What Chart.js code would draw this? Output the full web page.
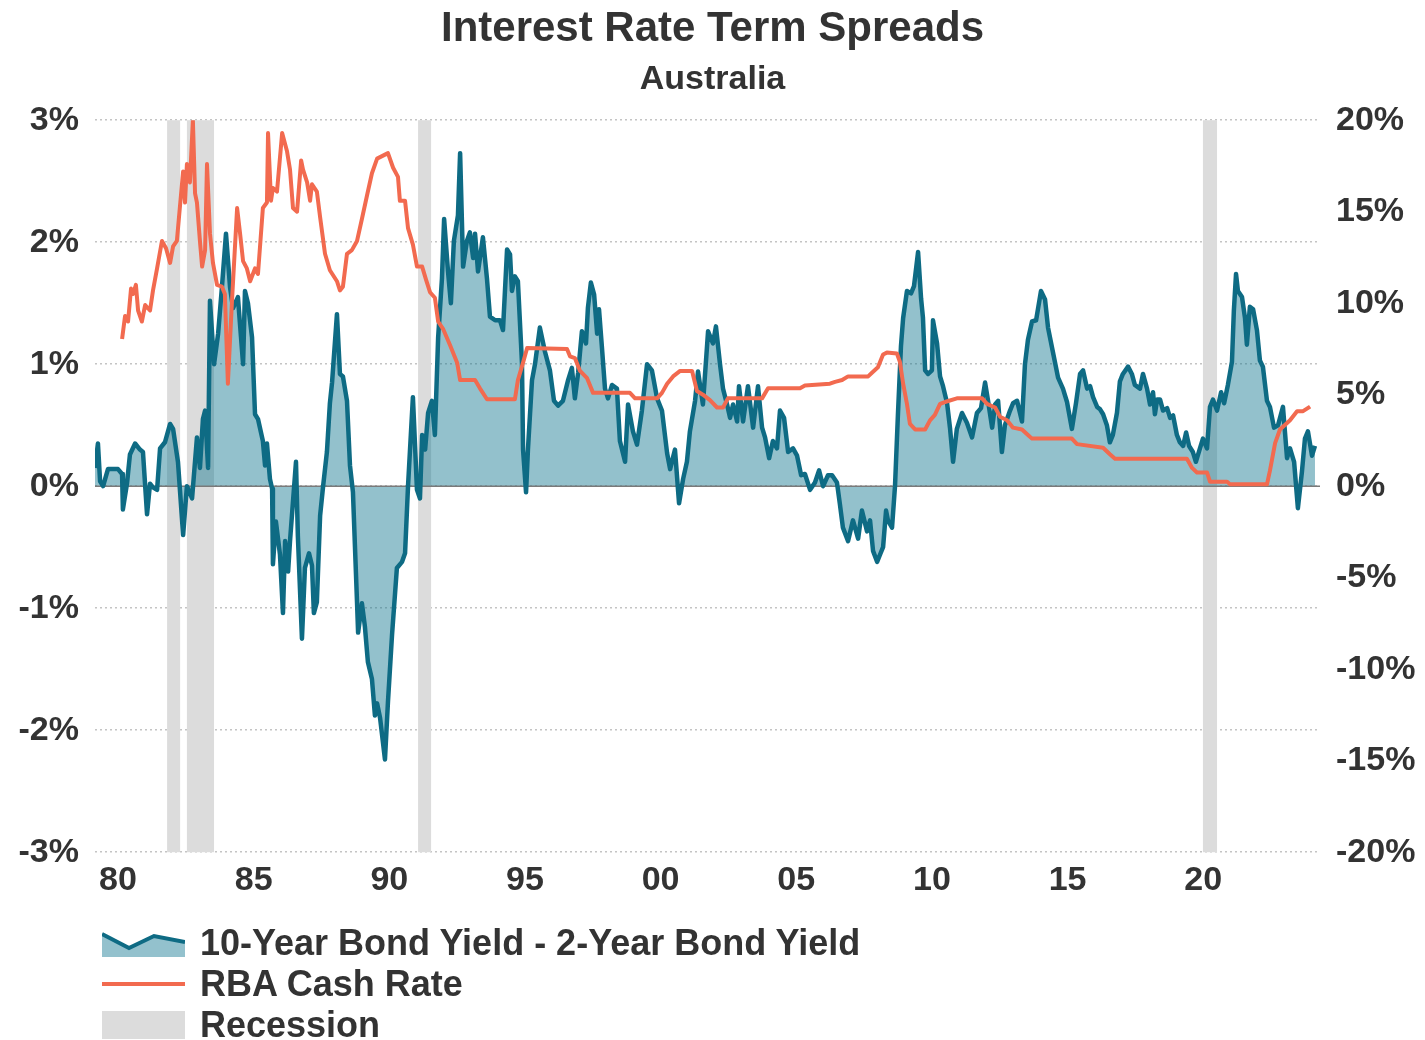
<!DOCTYPE html>
<html>
<head>
<meta charset="utf-8">
<script src="https://cdn.jsdelivr.net/npm/chart.js@4.4.1/dist/chart.umd.min.js"></script>
<style>
  body { margin: 0; background: #fff; }
  #wrap { position: relative; width: 1425px; height: 1040px; }
  #legend { position: absolute; left: 102px; top: 922px; font-family: "Liberation Sans", Arial, sans-serif;
            font-weight: bold; font-size: 36px; color: #333; }
  .row { display: flex; align-items: center; height: 41px; }
  .row svg { margin-right: 15px; }
</style>
</head>
<body>
<div id="wrap">
  <canvas id="termChart" width="1425" height="1040"></canvas>
  <div id="legend">
    <div class="row">
      <svg width="83" height="28"><polygon points="0,5 27,19 52,7 83,13 83,28 0,28" fill="#93c1cd"/><polyline points="0,5 27,19 52,7 83,13" fill="none" stroke="#0e6b84" stroke-width="4"/></svg>
      <span>10-Year Bond Yield - 2-Year Bond Yield</span>
    </div>
    <div class="row">
      <svg width="83" height="28"><line x1="0" y1="14" x2="83" y2="14" stroke="#f26a4f" stroke-width="4"/></svg>
      <span>RBA Cash Rate</span>
    </div>
    <div class="row">
      <svg width="83" height="28"><rect x="0" y="0" width="83" height="28" fill="#dcdcdc"/></svg>
      <span>Recession</span>
    </div>
  </div>
</div>
<script>
// x values are decimal years
var spreadYears = [1979.15, 1979.26, 1979.34, 1979.45, 1979.63, 1980.0, 1980.15, 1980.18, 1980.33, 1980.44, 1980.63, 1980.81, 1980.92,
    1981.07, 1981.18, 1981.29, 1981.44, 1981.55, 1981.73, 1981.92, 1982.03, 1982.21, 1982.40, 1982.54, 1982.73, 1982.91,
    1983.02, 1983.13, 1983.21, 1983.32, 1983.39, 1983.54, 1983.69, 1983.83, 1983.98, 1984.13, 1984.24, 1984.42, 1984.61,
    1984.68, 1984.79, 1984.94, 1985.05, 1985.16, 1985.34, 1985.42, 1985.49, 1985.60, 1985.68, 1985.71, 1985.82, 1985.97,
    1986.08, 1986.16, 1986.27, 1986.34, 1986.56, 1986.63, 1986.78, 1986.89, 1987.04, 1987.15, 1987.22, 1987.33, 1987.45,
    1987.56, 1987.70, 1987.81, 1987.89, 1988.07, 1988.18, 1988.29, 1988.44, 1988.55, 1988.66, 1988.81, 1988.85, 1988.99,
    1989.10, 1989.21, 1989.36, 1989.47, 1989.55, 1989.66, 1989.84, 1989.95, 1990.10, 1990.28, 1990.47, 1990.58, 1990.69,
    1990.87, 1991.02, 1991.13, 1991.21, 1991.32, 1991.43, 1991.57, 1991.68, 1991.80, 1991.94, 1992.02, 1992.16, 1992.27,
    1992.38, 1992.53, 1992.61, 1992.72, 1992.86, 1992.97, 1993.09, 1993.16, 1993.27, 1993.45, 1993.60, 1993.71, 1993.90,
    1994.08, 1994.19, 1994.34, 1994.45, 1994.52, 1994.63, 1994.74, 1994.89, 1994.93, 1995.04, 1995.11, 1995.26, 1995.37,
    1995.55, 1995.74, 1995.92, 1996.07, 1996.22, 1996.40, 1996.59, 1996.73, 1996.84, 1996.96, 1997.10, 1997.25, 1997.32,
    1997.43, 1997.55, 1997.66, 1997.73, 1997.84, 1997.95, 1998.06, 1998.21, 1998.39, 1998.50, 1998.69, 1998.80, 1998.98,
    1999.13, 1999.31, 1999.50, 1999.68, 1999.87, 2000.05, 2000.24, 2000.35, 2000.53, 2000.68, 2000.83, 2000.97, 2001.08,
    2001.27, 2001.38, 2001.56, 2001.75, 2001.93, 2002.04, 2002.19, 2002.30, 2002.45, 2002.56, 2002.67, 2002.82, 2002.89,
    2003.04, 2003.22, 2003.41, 2003.59, 2003.74, 2003.85, 2004.00, 2004.14, 2004.29, 2004.40, 2004.55, 2004.70, 2004.88,
    2005.03, 2005.18, 2005.32, 2005.51, 2005.69, 2005.84, 2005.99, 2006.17, 2006.32, 2006.50, 2006.61, 2006.72, 2006.91,
    2007.09, 2007.28, 2007.42, 2007.61, 2007.72, 2007.83, 2007.98, 2008.09, 2008.20, 2008.31, 2008.38, 2008.53, 2008.64,
    2008.75, 2008.86, 2008.94, 2009.08, 2009.23, 2009.34, 2009.49, 2009.60, 2009.67, 2009.75, 2009.86, 2010.00, 2010.04,
    2010.19, 2010.30, 2010.41, 2010.56, 2010.67, 2010.78, 2010.92, 2011.11, 2011.29, 2011.48, 2011.66, 2011.81, 2011.96,
    2012.07, 2012.22, 2012.33, 2012.44, 2012.58, 2012.69, 2012.88, 2012.99, 2013.14, 2013.32, 2013.43, 2013.54, 2013.69,
    2013.84, 2014.02, 2014.17, 2014.28, 2014.46, 2014.65, 2014.83, 2014.98, 2015.16, 2015.31, 2015.46, 2015.57, 2015.72,
    2015.83, 2015.94, 2016.09, 2016.20, 2016.31, 2016.45, 2016.56, 2016.67, 2016.82, 2016.93, 2017.04, 2017.23, 2017.37,
    2017.48, 2017.67, 2017.78, 2017.93, 2018.04, 2018.15, 2018.22, 2018.30, 2018.41, 2018.52, 2018.67, 2018.78, 2018.89,
    2019.03, 2019.14, 2019.26, 2019.37, 2019.48, 2019.62, 2019.73, 2019.88, 2019.99, 2020.14, 2020.25, 2020.36, 2020.51,
    2020.66, 2020.77, 2020.91, 2021.06, 2021.13, 2021.21, 2021.28, 2021.43, 2021.54, 2021.61, 2021.72, 2021.84, 2021.98,
    2022.09, 2022.20, 2022.35, 2022.46, 2022.61, 2022.76, 2022.94, 2023.09, 2023.20, 2023.35, 2023.49, 2023.64, 2023.75,
    2023.86, 2024.01, 2024.12];
var spreadValues = [0.15, 0.35, 0.04, 0.0, 0.14, 0.14, 0.10, -0.19, 0.02, 0.26, 0.35, 0.30, 0.28,
    -0.23, 0.02, -0.01, -0.03, 0.31, 0.36, 0.51, 0.47, 0.20, -0.40, 0.0, -0.10, 0.40,
    0.15, 0.55, 0.62, 0.15, 1.52, 1.0, 1.25, 1.63, 2.07, 1.63, 1.46, 1.55, 1.0,
    1.6, 1.5, 1.22, 0.59, 0.55, 0.37, 0.17, 0.35, 0.06, -0.02, -0.64, -0.29, -0.56,
    -1.04, -0.45, -0.70, -0.45, 0.20, -0.41, -1.25, -0.67, -0.55, -0.65, -1.04, -0.95, -0.24,
    0.0, 0.28, 0.68, 0.85, 1.41, 0.92, 0.90, 0.70, 0.17, -0.05, -0.95, -1.2, -0.96,
    -1.15, -1.44, -1.58, -1.88, -1.78, -1.90, -2.24, -1.77, -1.22, -0.67, -0.62, -0.55, 0.0,
    0.73, -0.03, -0.10, 0.42, 0.30, 0.60, 0.70, 0.42, 1.22, 1.70, 2.19, 1.77, 1.50,
    2.01, 2.22, 2.73, 1.80, 2.01, 2.08, 1.87, 2.07, 1.76, 2.04, 1.70, 1.39, 1.36,
    1.36, 1.28, 1.94, 1.90, 1.60, 1.72, 1.68, 1.01, 0.30, -0.05, 0.30, 0.87, 1.0,
    1.30, 1.10, 0.95, 0.70, 0.66, 0.70, 0.87, 0.97, 0.72, 0.93, 1.27, 1.17, 1.46,
    1.67, 1.57, 1.25, 1.45, 1.13, 0.80, 0.72, 0.83, 0.80, 0.37, 0.20, 0.67, 0.45,
    0.34, 0.62, 1.0, 0.95, 0.72, 0.62, 0.27, 0.14, 0.30, -0.14, 0.06, 0.20, 0.45,
    0.70, 0.94, 0.67, 1.27, 1.17, 1.31, 1.0, 0.80, 0.67, 0.56, 0.67, 0.53, 0.82,
    0.53, 0.82, 0.48, 0.82, 0.48, 0.40, 0.23, 0.37, 0.31, 0.62, 0.56, 0.28, 0.31,
    0.25, 0.09, 0.10, -0.03, 0.03, 0.13, 0.0, 0.09, 0.09, 0.03, -0.15, -0.34, -0.45,
    -0.28, -0.43, -0.20, -0.37, -0.28, -0.53, -0.62, -0.56, -0.50, -0.20, -0.28, -0.34, 0.0,
    0.60, 1.15, 1.38, 1.60, 1.58, 1.64, 1.92, 1.54, 1.38, 0.95, 0.92, 0.95, 1.36,
    1.17, 0.90, 0.82, 0.68, 0.47, 0.20, 0.47, 0.60, 0.52, 0.40, 0.60, 0.64, 0.85,
    0.70, 0.48, 0.67, 0.70, 0.28, 0.50, 0.62, 0.68, 0.70, 0.53, 1.0, 1.20, 1.35,
    1.36, 1.60, 1.53, 1.30, 1.10, 0.89, 0.80, 0.69, 0.47, 0.68, 0.92, 0.95, 0.80,
    0.82, 0.73, 0.65, 0.63, 0.59, 0.50, 0.36, 0.42, 0.60, 0.86, 0.92, 0.98, 0.92,
    0.83, 0.80, 0.92, 0.80, 0.67, 0.77, 0.59, 0.71, 0.71, 0.62, 0.64, 0.56, 0.58,
    0.42, 0.36, 0.33, 0.44, 0.33, 0.28, 0.20, 0.31, 0.39, 0.31, 0.65, 0.71, 0.62,
    0.77, 0.68, 0.83, 1.02, 1.44, 1.74, 1.60, 1.55, 1.38, 1.16, 1.47, 1.45, 1.28,
    1.03, 0.98, 0.70, 0.65, 0.48, 0.50, 0.65, 0.23, 0.31, 0.20, -0.18, 0.12, 0.39,
    0.45, 0.25, 0.33];

var cashYears = [1980.15, 1980.26, 1980.37, 1980.48, 1980.55, 1980.66, 1980.74, 1980.88, 1981.00, 1981.18, 1981.29, 1981.44,
    1981.62, 1981.77, 1981.92, 1982.03, 1982.17, 1982.29, 1982.40, 1982.47, 1982.54, 1982.65, 1982.76, 1982.84, 1982.91,
    1983.02, 1983.10, 1983.21, 1983.28, 1983.39, 1983.50, 1983.65, 1983.83, 1983.94, 1984.05, 1984.20, 1984.39, 1984.50,
    1984.61, 1984.75, 1984.87, 1985.05, 1985.16, 1985.34, 1985.49, 1985.53, 1985.64, 1985.71, 1985.86, 1986.05, 1986.23,
    1986.34, 1986.45, 1986.60, 1986.75, 1986.82, 1986.97, 1987.08, 1987.15, 1987.33, 1987.45, 1987.63, 1987.81, 1988.07,
    1988.18, 1988.29, 1988.44, 1988.62, 1988.81, 1988.99, 1989.18, 1989.36, 1989.55, 1989.95, 1990.14, 1990.32, 1990.39,
    1990.58, 1990.69, 1990.87, 1991.02, 1991.21, 1991.35, 1991.50, 1991.68, 1991.80, 1991.98, 1992.24, 1992.50, 1992.61,
    1993.16, 1993.34, 1993.60, 1994.63, 1994.74, 1994.93, 1995.08, 1996.55, 1996.66, 1996.84, 1997.03, 1997.29, 1997.51,
    1998.87, 1999.06, 1999.87, 2000.05, 2000.24, 2000.46, 2000.72, 2001.16, 2001.34, 2001.56, 2001.82, 2002.08, 2002.30,
    2002.48, 2003.74, 2003.96, 2005.14, 2005.32, 2006.24, 2006.43, 2006.69, 2006.91, 2007.65, 2007.79, 2008.01, 2008.20,
    2008.34, 2008.71, 2008.82, 2008.94, 2009.08, 2009.19, 2009.38, 2009.75, 2009.93, 2010.11, 2010.30, 2010.48, 2010.92,
    2011.85, 2012.03, 2012.33, 2012.51, 2012.77, 2012.99, 2013.32, 2013.54, 2013.69, 2015.16, 2015.35, 2016.31, 2016.56,
    2016.75, 2019.40, 2019.59, 2019.77, 2020.14, 2020.25, 2020.88, 2020.99, 2022.35, 2022.46, 2022.65, 2022.83, 2023.20,
    2023.46, 2023.68, 2023.94];
var cashValues = [8.05, 9.3, 9.0, 10.8, 10.5, 11.0, 9.6, 9.0, 9.9, 9.6, 10.7, 11.9,
    13.4, 13.0, 12.2, 13.1, 13.4, 15.4, 17.2, 15.5, 17.6, 16.6, 20.0, 16.0, 15.5,
    13.4, 12.0, 12.9, 17.6, 13.8, 12.2, 11.0, 10.9, 10.5, 5.6, 10.1, 15.2, 13.8,
    12.3, 11.9, 11.2, 11.9, 11.6, 15.2, 15.5, 19.3, 15.6, 16.3, 16.1, 19.3, 18.3,
    17.3, 15.2, 15.0, 17.8, 17.3, 16.6, 15.6, 16.5, 16.1, 14.7, 12.7, 11.8, 11.2,
    10.7, 10.9, 12.7, 12.9, 13.4, 14.6, 15.9, 17.1, 17.9, 18.2, 17.4, 16.9, 15.6,
    15.6, 14.1, 13.2, 12.0, 12.0, 11.3, 10.6, 10.3, 9.0, 8.6, 7.7, 6.75, 5.8,
    5.8, 5.35, 4.75, 4.75, 5.8, 6.75, 7.55, 7.5, 7.1, 7.0, 6.3, 5.9, 5.1,
    5.1, 4.8, 4.8, 5.1, 5.6, 6.0, 6.3, 6.3, 5.2, 5.0, 4.7, 4.3, 4.3,
    4.8, 4.8, 5.35, 5.35, 5.5, 5.6, 5.7, 5.8, 6.0, 6.0, 6.2, 6.5, 7.2,
    7.3, 7.25, 6.8, 5.6, 4.5, 3.4, 3.1, 3.1, 3.6, 3.9, 4.5, 4.6, 4.8,
    4.8, 4.5, 4.3, 3.8, 3.6, 3.2, 3.1, 2.8, 2.6, 2.6, 2.3, 2.1, 1.75,
    1.5, 1.5, 1.0, 0.75, 0.75, 0.25, 0.25, 0.1, 0.1, 0.85, 2.35, 3.1, 3.6,
    4.1, 4.1, 4.35];

var recessionStarts = [1981.81, 1982.54, 1991.06, 2019.99];
var recessionEnds = [1982.29, 1983.54, 1991.54, 2020.51];

var xTickYears = [1980, 1985, 1990, 1995, 2000, 2005, 2010, 2015, 2020];
var xTickLabels = ['80', '85', '90', '95', '00', '05', '10', '15', '20'];

var fontFamily = '"Liberation Sans", Arial, sans-serif';
var textColor = '#333';

// grey recession bands behind the data, and a solid zero line over the fill
const bandsPlugin = {
    id: 'bands',
    beforeDatasetsDraw(chart) {
        const ctx = chart.ctx, area = chart.chartArea, x = chart.scales.x;
        ctx.save();
        ctx.fillStyle = '#dcdcdc';
        for (var i = 0; i < recessionStarts.length; i++) {
            var x0 = x.getPixelForValue(recessionStarts[i]);
            var x1 = x.getPixelForValue(recessionEnds[i]);
            ctx.fillRect(x0, area.top, x1 - x0, area.bottom - area.top);
        }
        ctx.restore();
    },
    beforeDatasetDraw(chart, args) {
        if (args.index !== 0) return;
        const ctx = chart.ctx, area = chart.chartArea;
        var y0 = chart.scales.y.getPixelForValue(0);
        ctx.save();
        ctx.strokeStyle = '#7a7a7a';
        ctx.lineWidth = 1.5;
        ctx.beginPath();
        ctx.moveTo(area.left, y0);
        ctx.lineTo(area.right, y0);
        ctx.stroke();
        ctx.restore();
    }
};

const ctx = document.getElementById('termChart');
const termChart = new Chart(ctx, {
    type: 'line',
    data: {
        datasets: [{
            label: '10-Year Bond Yield - 2-Year Bond Yield',
            data: spreadYears.map((yr, i) => ({x: yr, y: spreadValues[i]})),
            yAxisID: 'y',
            borderColor: '#0e6b84',
            borderWidth: 4.5,
            pointRadius: 0,
            borderJoinStyle: 'round',
            fill: {target: 'origin', above: 'rgba(16,118,143,0.45)', below: 'rgba(16,118,143,0.45)'},
            order: 2
        }, {
            label: 'RBA Cash Rate',
            data: cashYears.map((yr, i) => ({x: yr, y: cashValues[i]})),
            yAxisID: 'y1',
            borderColor: '#f26a4f',
            borderWidth: 4,
            pointRadius: 0,
            borderJoinStyle: 'round',
            fill: false,
            order: 1
        }]
    },
    options: {
        responsive: false,
        animation: false,
        devicePixelRatio: 1,
        layout: {padding: {left: 0, right: 0, top: 0, bottom: 131}},
        plugins: {
            legend: {display: false},
            tooltip: {enabled: false},
            title: {
                display: true,
                text: 'Interest Rate Term Spreads',
                color: textColor,
                font: {family: fontFamily, size: 42, weight: 'bold', lineHeight: 1.2},
                padding: {top: 4, bottom: 3}
            },
            subtitle: {
                display: true,
                text: 'Australia',
                color: textColor,
                font: {family: fontFamily, size: 34, weight: 'bold', lineHeight: 1.2},
                padding: {top: 2, bottom: 20}
            }
        },
        scales: {
            x: {
                type: 'linear',
                min: 1979.152,
                max: 2024.305,
                afterBuildTicks: s => { s.ticks = xTickYears.map(v => ({value: v})); },
                ticks: {
                    callback: function (v) { return xTickLabels[xTickYears.indexOf(v)]; },
                    color: textColor,
                    font: {family: fontFamily, size: 34, weight: 'bold'},
                    padding: 8,
                    maxRotation: 0
                },
                grid: {display: false, drawTicks: false},
                border: {display: false}
            },
            y: {
                position: 'left',
                min: -3,
                max: 3,
                afterFit: s => { s.width = 95; },
                ticks: {
                    stepSize: 1,
                    callback: v => v + '%',
                    color: textColor,
                    font: {family: fontFamily, size: 34, weight: 'bold'},
                    padding: 16
                },
                grid: {color: '#c4c4c4', lineWidth: 1.5, drawTicks: false},
                border: {display: false, dash: [2, 3]}
            },
            y1: {
                position: 'right',
                min: -20,
                max: 20,
                afterFit: s => { s.width = 105; },
                ticks: {
                    stepSize: 5,
                    callback: v => v + '%',
                    color: textColor,
                    font: {family: fontFamily, size: 34, weight: 'bold'},
                    padding: 16
                },
                grid: {drawOnChartArea: false, drawTicks: false},
                border: {display: false}
            }
        }
    },
    plugins: [bandsPlugin]
});
</script>
</body>
</html>
